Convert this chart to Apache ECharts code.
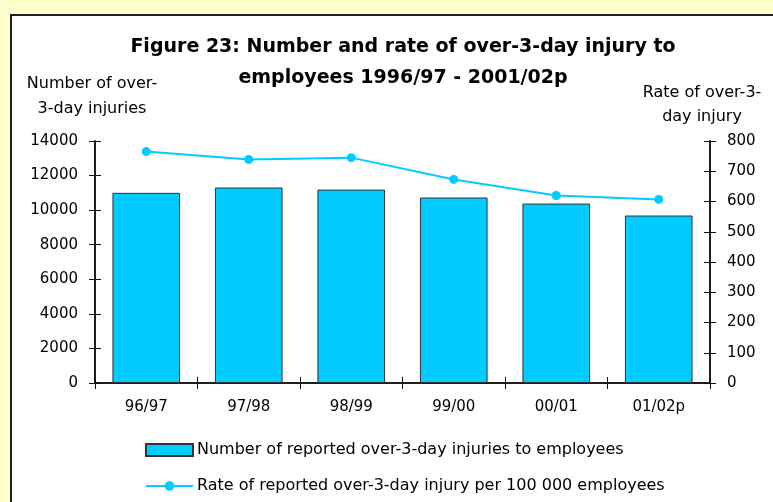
<!doctype html>
<html>
<head>
<meta charset="utf-8">
<script src="https://cdn.jsdelivr.net/npm/echarts@6/dist/echarts.min.js"></script>
<style>
  html, body { margin: 0; padding: 0; background: #ffffcc; }
  #frame { position: absolute; left: 10px; top: 14px; width: 800px; height: 600px; background: #fff; border: 2px solid #222; }
  #chart { position: absolute; left: 0; top: 0; width: 773px; height: 502px; }
</style>
</head>
<body>
<div id="frame"></div>
<div id="chart"></div>
<script>
const years = ['96/97', '97/98', '98/99', '99/00', '00/01', '01/02p'];
const injuries = [11000, 11310, 11190, 10730, 10380, 9690];
const rates = [765, 739, 745, 673, 620, 607];
const leftTicks = { min: 0, max: 14000, interval: 2000 };
const rightTicks = { min: 0, max: 800, interval: 100 };

const font = '"DejaVu Sans", Verdana, sans-serif';

function yAx(pos, ticks, withLabels, inside) {
  return {
    type: 'value', position: pos, offset: 0,
    min: ticks.min, max: ticks.max, interval: ticks.interval,
    axisLine: { show: true, onZero: false, lineStyle: { color: '#111', width: 1.5 } },
    axisTick: { show: true, inside: inside, length: 6, lineStyle: { color: '#111' } },
    axisLabel: { show: withLabels, color: '#000', fontSize: 15, fontFamily: font, margin: 17,
      formatter: function (v) { return String(v); } },
    splitLine: { show: false }
  };
}
function xAx(withLabels, inside) {
  return {
    type: 'category', data: years, position: 'bottom',
    axisLine: { show: true, onZero: false, lineStyle: { color: '#111', width: 1.5 } },
    axisTick: { show: true, inside: inside, length: 6, lineStyle: { color: '#111' } },
    axisLabel: { show: withLabels, color: '#000', fontSize: 15, fontFamily: font, margin: 17 }
  };
}

const chart = echarts.init(document.getElementById('chart'));
chart.setOption({
  backgroundColor: 'transparent',
  animation: false,
  title: {
    text: 'Figure 23: Number and rate of over-3-day injury to\nemployees 1996/97 - 2001/02p',
    left: 398, top: 27, textAlign: 'center',
    textStyle: { fontSize: 19, fontWeight: 'bold', fontFamily: font, color: '#000', lineHeight: 31 }
  },
  graphic: [
    { type: 'text', x: 92, y: 71, style: { text: 'Number of over-\n3-day injuries', font: '16px ' + font, fill: '#000', align: 'center', lineHeight: 25 } },
    { type: 'text', x: 702, y: 81, style: { text: 'Rate of over-3-\nday injury', font: '16px ' + font, fill: '#000', align: 'center', lineHeight: 24 } }
  ],
  grid: { left: 95, right: 63, top: 141, bottom: 119 },
  legend: {
    orient: 'vertical', left: 140, top: 437,
    itemWidth: 47, itemHeight: 12, itemGap: 20,
    textStyle: { fontSize: 16, fontFamily: font, color: '#000', padding: [0, 0, 0, -1] },
    data: [
      { name: 'Number of reported over-3-day injuries to employees', icon: 'rect' },
      { name: 'Rate of reported over-3-day injury per 100 000 employees' }
    ]
  },
  xAxis: [xAx(true, false), xAx(false, true)],
  yAxis: [
    yAx('left', leftTicks, true, false),
    yAx('right', rightTicks, true, false),
    yAx('left', leftTicks, false, true),
    yAx('right', rightTicks, false, true)
  ],
  series: [
    {
      name: 'Number of reported over-3-day injuries to employees',
      type: 'bar', data: injuries, barWidth: '66%',
      itemStyle: { color: '#00ccff', borderColor: '#333', borderWidth: 1 }
    },
    {
      name: 'Rate of reported over-3-day injury per 100 000 employees',
      type: 'line', yAxisIndex: 1, data: rates,
      symbol: 'circle', symbolSize: 9,
      lineStyle: { color: '#00ccff', width: 2 },
      itemStyle: { color: '#00ccff' }
    }
  ]
});
</script>
</body>
</html>
